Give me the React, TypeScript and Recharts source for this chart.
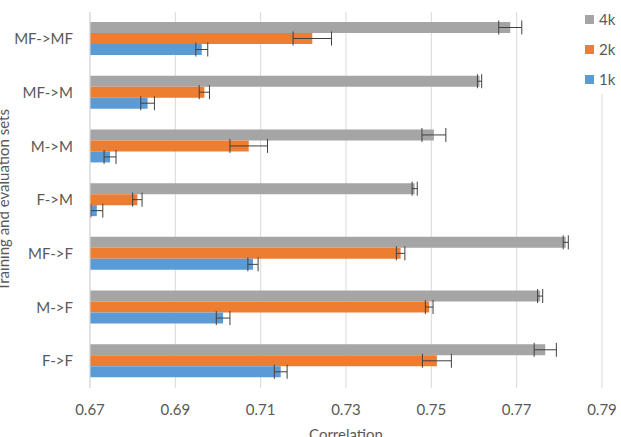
import React from 'react';
import { BarChart, Bar, XAxis, YAxis, CartesianGrid, Legend, ErrorBar } from 'recharts';

// Train -> evaluation set pairs, top to bottom
const categories = ['MF->MF', 'MF->M', 'M->M', 'F->M', 'MF->F', 'M->F', 'F->F'];

// Mean correlation per training size
const corr4k = [0.7685, 0.7613, 0.7506, 0.7461, 0.7815, 0.7755, 0.7767];
const corr2k = [0.7221, 0.6968, 0.7072, 0.6811, 0.7428, 0.7495, 0.7513];
const corr1k = [0.6962, 0.6835, 0.6747, 0.6716, 0.7082, 0.7012, 0.7147];

// Error half-widths
const err4k = [0.0027, 0.0005, 0.0028, 0.0006, 0.0006, 0.0006, 0.0026];
const err2k = [0.0045, 0.0012, 0.0044, 0.0011, 0.0010, 0.0009, 0.0034];
const err1k = [0.0014, 0.0016, 0.0014, 0.0014, 0.0012, 0.0016, 0.0015];

const xTicks = [0.67, 0.69, 0.71, 0.73, 0.75, 0.77, 0.79];

const data = categories.map((name, i) => ({
  name,
  k4: corr4k[i],
  k2: corr2k[i],
  k1: corr1k[i],
  e4: err4k[i],
  e2: err2k[i],
  e1: err1k[i],
}));

const FONT = 'Lato, "Open Sans", sans-serif';
const TEXT = '#595959';

const series = [
  { key: 'k4', err: 'e4', name: '4k', color: '#A5A5A5' },
  { key: 'k2', err: 'e2', name: '2k', color: '#ED7D31' },
  { key: 'k1', err: 'e1', name: '1k', color: '#5B9BD5' },
];

const LegendBox = () => (
  <div style={{ background: '#fff', fontFamily: FONT, fontSize: 15, color: TEXT }}>
    {series.map((s) => (
      <div key={s.key} style={{ display: 'flex', alignItems: 'center', height: 30 }}>
        <span style={{ display: 'inline-block', width: 9, height: 9, background: s.color, marginRight: 5 }} />
        <span>{s.name}</span>
      </div>
    ))}
  </div>
);

export default function App() {
  return (
    <div style={{ position: 'absolute', left: 0, top: 0, background: '#fff' }}>
      <BarChart
        width={621}
        height={437}
        data={data}
        layout="vertical"
        margin={{ top: 12, right: 19, bottom: 19, left: 20 }}
        barSize={11}
        barGap={0}
      >
        <CartesianGrid horizontal={false} vertical stroke="#D9D9D9" />
        <XAxis
          type="number"
          domain={[0.67, 0.79]}
          ticks={xTicks}
          tickFormatter={(v: number) => v.toFixed(2)}
          axisLine={false}
          tickLine={false}
          tickMargin={10}
          height={30}
          tick={{ fill: TEXT, fontSize: 15, fontFamily: FONT }}
          allowDataOverflow
          label={{ value: 'Correlation', position: 'bottom', offset: 11, fill: TEXT, fontSize: 15, fontFamily: FONT }}
        />
        <YAxis
          type="category"
          dataKey="name"
          width={70}
          axisLine={{ stroke: '#D9D9D9' }}
          tickLine={false}
          tickMargin={11}
          tick={{ fill: TEXT, fontSize: 15, fontFamily: FONT }}
          label={(props: any) => {
            const vb = props.viewBox || {};
            const cx = (vb.x ?? 20) - 17;
            const cy = (vb.y ?? 12) + (vb.height ?? 376) / 2;
            return (
              <text
                x={cx}
                y={cy}
                transform={`rotate(-90, ${cx}, ${cy})`}
                textAnchor="middle"
                dominantBaseline="central"
                fill={TEXT}
                fontSize={15}
                fontFamily={FONT}
              >
                Training and evaluation sets
              </text>
            );
          }}
        />
        <Legend
          layout="vertical"
          align="center"
          verticalAlign="middle"
          content={<LegendBox />}
          wrapperStyle={{ position: 'absolute', left: 585, top: 4, width: 36 }}
        />
        {series.map((s) => (
          <Bar key={s.key} dataKey={s.key} name={s.name} fill={s.color} isAnimationActive={false}>
            <ErrorBar dataKey={s.err} direction="x" width={7} stroke="#404040" strokeWidth={1} />
          </Bar>
        ))}
      </BarChart>
    </div>
  );
}
